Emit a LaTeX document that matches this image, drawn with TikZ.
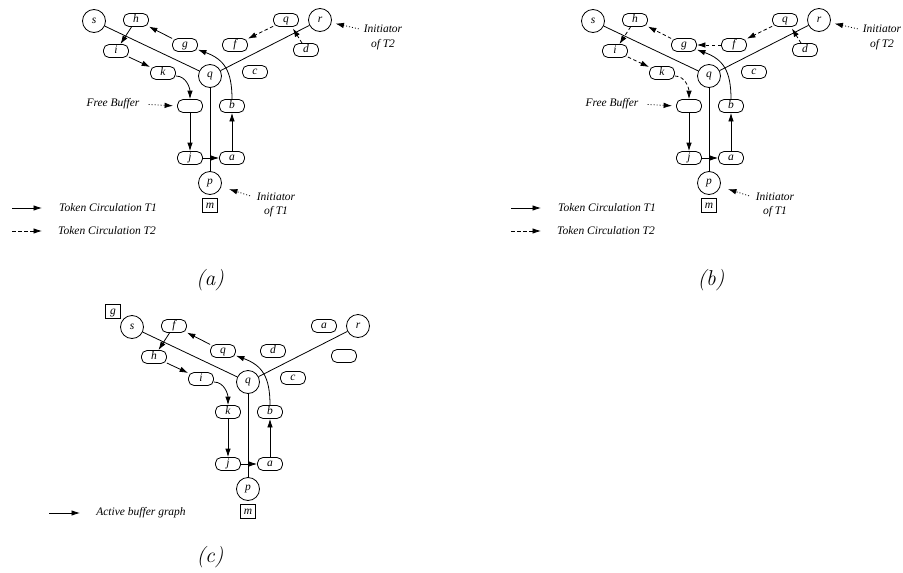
\documentclass[tikz,border=0pt]{standalone}
\usepackage{fontspec}
\newfontfamily\tms{Liberation Serif}
\usetikzlibrary{arrows.meta}
\newcommand\lblfont{\tms\itshape\fontsize{11.5}{14.5}\selectfont}
\tikzset{
  lbl/.style={font=\lblfont, inner sep=0pt},
  bufbox/.style={draw, line width=0.8pt, rounded corners=5.5pt, minimum width=25pt, minimum height=13pt, inner sep=0pt, font=\lblfont, text height=1.45ex, text depth=0.2ex},
  proc/.style={draw, line width=0.8pt, circle, minimum size=23pt, inner sep=0pt, font=\lblfont},
  msgbox/.style={draw, line width=0.8pt, minimum width=15pt, minimum height=13.5pt, inner sep=0pt, font=\lblfont, text height=1.45ex, text depth=0.2ex},
  treelink/.style={line width=0.8pt},
  arrowtip/.style={-{Latex[length=8.5pt,width=5.5pt]}},
  t1/.style={arrowtip, line width=0.8pt},
  t2/.style={arrowtip, line width=0.8pt, dash pattern=on 3.5pt off 2.5pt},
  dotarrow/.style={arrowtip, line width=0.8pt, dash pattern=on 1pt off 2pt},
  captxt/.style={font=\itshape\fontsize{21.5}{24}\selectfont, inner sep=0pt}
}
\begin{document}
\begin{tikzpicture}[x=1pt,y=1pt]
\useasboundingbox[fill=white] (0,0) rectangle (903,-573);

% ---------------- panel (a) ----------------
\begin{scope}
\node[proc] (As) at (94,-21) {s};
\node[bufbox] (Ah) at (136,-20) {h};
\node[bufbox] (Ag) at (185,-45) {g};
\node[bufbox] (Ai) at (116,-51) {i};
\node[bufbox] (Ak) at (163,-73) {k};
\node[proc] (Aq) at (210,-76) {q};
\node[bufbox] (Ac) at (255,-72) {c};
\node[bufbox] (Afb) at (190,-106) {};
\node[bufbox] (Ab) at (232,-106) {b};
\node[bufbox] (Aj) at (190,-158) {j};
\node[bufbox] (Aa) at (232,-158) {a};
\node[proc] (Ap) at (210,-183) {p};
\node[msgbox] (Am) at (210,-205.5) {m};
\node[bufbox] (Aqb) at (286,-20) {q};
\node[bufbox] (Af) at (235,-45) {f};
\node[proc] (Ar) at (320,-20) {r};
\node[bufbox] (Ad) at (306,-50) {d};

\draw[treelink] (As) -- (Aq);
\draw[treelink] (Aq) -- (Ar);
\draw[treelink] (Aq) -- (Ap);

\draw[t1] (Aa) -- (Ab);
\draw[t1] (Ab.north) to[out=90,in=-20,looseness=1.2] (Ag.-20);
\draw[t1] (Ag) -- (Ah);
\draw[t1] (Ah) -- (Ai);
\draw[t1] (Ai) -- (Ak);
\draw[t1] ([yshift=-3pt]Ak.east) to[out=0,in=90] (Afb.north);
\draw[t1] (Afb) -- (Aj);
\draw[t1] (Aj) -- (Aa);

\draw[t2] ([xshift=-4pt]Ad.north) -- ([xshift=-6pt,yshift=-1.5pt]Aqb.south east);
\draw[t2] (Aqb) -- (Af);

\node[lbl] (Afbt) at (113,-104) {Free Buffer};
\draw[dotarrow, shorten <=9pt, shorten >=4pt] (Afbt.east) -- (Afb.west);

\node[lbl, align=center] (Ain1) at (276,-205) {Initiator\\of T1};
\draw[dotarrow, shorten <=7pt, shorten >=8pt] ([yshift=7pt]Ain1.west) -- (Ap);

\node[lbl, align=center] (Ain2) at (383,-37.5) {Initiator\\of T2};
\draw[dotarrow, shorten <=5pt, shorten >=4pt] ([yshift=7.5pt]Ain2.west) -- (Ar);

\coordinate (Al1s) at (12,-208);
\coordinate (Al1e) at (42,-208);
\draw[t1] (Al1s) -- (Al1e);
\node[lbl] (Al1t) at (108,-208) {Token Circulation T1};
\coordinate (Al2s) at (12,-231);
\coordinate (Al2e) at (42,-231);
\draw[t2] (Al2s) -- (Al2e);
\node[lbl] (Al2t) at (107,-231) {Token Circulation T2};

\node[captxt] (Acap) at (210,-280) {(a)};
\end{scope}

% ---------------- panel (b) ----------------
\begin{scope}[shift={(499,0)}]
\node[proc] (Bs) at (94,-21) {s};
\node[bufbox] (Bh) at (136,-20) {h};
\node[bufbox] (Bg) at (185,-45) {g};
\node[bufbox] (Bi) at (116,-51) {i};
\node[bufbox] (Bk) at (163,-73) {k};
\node[proc] (Bq) at (210,-76) {q};
\node[bufbox] (Bc) at (255,-72) {c};
\node[bufbox] (Bfb) at (190,-106) {};
\node[bufbox] (Bb) at (232,-106) {b};
\node[bufbox] (Bj) at (190,-158) {j};
\node[bufbox] (Ba) at (232,-158) {a};
\node[proc] (Bp) at (210,-183) {p};
\node[msgbox] (Bm) at (210,-205.5) {m};
\node[bufbox] (Bqb) at (286,-20) {q};
\node[bufbox] (Bf) at (235,-45) {f};
\node[proc] (Br) at (320,-20) {r};
\node[bufbox] (Bd) at (306,-50) {d};

\draw[treelink] (Bs) -- (Bq);
\draw[treelink] (Bq) -- (Br);
\draw[treelink] (Bq) -- (Bp);

\draw[t1] (Ba) -- (Bb);
\draw[t1] (Bb.north) to[out=90,in=-20,looseness=1.2] (Bg.-20);
\draw[t1] (Bfb) -- (Bj);
\draw[t1] (Bj) -- (Ba);

\draw[t2] ([xshift=-4pt]Bd.north) -- ([xshift=-6pt,yshift=-1.5pt]Bqb.south east);
\draw[t2] (Bqb) -- (Bf);
\draw[t2] (Bf) -- (Bg);
\draw[t2] (Bg) -- (Bh);
\draw[t2] (Bh) -- (Bi);
\draw[t2] (Bi) -- (Bk);
\draw[t2] ([yshift=-3pt]Bk.east) to[out=0,in=90] (Bfb.north);

\node[lbl] (Bfbt) at (113,-104) {Free Buffer};
\draw[dotarrow, shorten <=9pt, shorten >=4pt] (Bfbt.east) -- (Bfb.west);

\node[lbl, align=center] (Bin1) at (276,-205) {Initiator\\of T1};
\draw[dotarrow, shorten <=7pt, shorten >=8pt] ([yshift=7pt]Bin1.west) -- (Bp);

\node[lbl, align=center] (Bin2) at (383,-37.5) {Initiator\\of T2};
\draw[dotarrow, shorten <=5pt, shorten >=4pt] ([yshift=7.5pt]Bin2.west) -- (Br);

\coordinate (Bl1s) at (12,-208);
\coordinate (Bl1e) at (42,-208);
\draw[t1] (Bl1s) -- (Bl1e);
\node[lbl] (Bl1t) at (108,-208) {Token Circulation T1};
\coordinate (Bl2s) at (12,-231);
\coordinate (Bl2e) at (42,-231);
\draw[t2] (Bl2s) -- (Bl2e);
\node[lbl] (Bl2t) at (107,-231) {Token Circulation T2};

\node[captxt] (Bcap) at (212,-280) {(b)};
\end{scope}

% ---------------- panel (c) ----------------
\begin{scope}[shift={(38,-306)}]
\node[msgbox] (Cgs) at (75,-5.5) {g};
\node[proc] (Cs) at (94,-21) {s};
\node[bufbox] (Cf) at (136,-20) {f};
\node[bufbox] (Cqb) at (185,-45) {q};
\node[bufbox] (Ch) at (116,-51) {h};
\node[bufbox] (Ci) at (163,-73) {i};
\node[proc] (Cq) at (210,-76) {q};
\node[bufbox] (Cc) at (255,-72) {c};
\node[bufbox] (Ck) at (190,-106) {k};
\node[bufbox] (Cb) at (232,-106) {b};
\node[bufbox] (Cj) at (190,-158) {j};
\node[bufbox] (Ca) at (232,-158) {a};
\node[proc] (Cp) at (210,-183) {p};
\node[msgbox] (Cm) at (210,-205.5) {m};
\node[bufbox] (Cab) at (286,-20) {a};
\node[bufbox] (Cd) at (235,-45) {d};
\node[proc] (Cr) at (320,-20) {r};
\node[bufbox] (Ce) at (306,-50) {};

\draw[treelink] (Cs) -- (Cq);
\draw[treelink] (Cq) -- (Cr);
\draw[treelink] (Cq) -- (Cp);

\draw[t1] (Ca) -- (Cb);
\draw[t1] (Cb.north) to[out=90,in=-20,looseness=1.2] (Cqb.-20);
\draw[t1] (Cqb) -- (Cf);
\draw[t1] (Cf) -- (Ch);
\draw[t1] (Ch) -- (Ci);
\draw[t1] ([yshift=-3pt]Ci.east) to[out=0,in=90] (Ck.north);
\draw[t1] (Ck) -- (Cj);
\draw[t1] (Cj) -- (Ca);
\end{scope}

\coordinate (Cls) at (49,-513);
\coordinate (Cle) at (80,-513);
\draw[t1] (Cls) -- (Cle);
\node[lbl] (Clt) at (141,-513) {Active buffer graph};
\node[captxt] (Ccap) at (210,-557) {(c)};
\end{tikzpicture}
\end{document}
